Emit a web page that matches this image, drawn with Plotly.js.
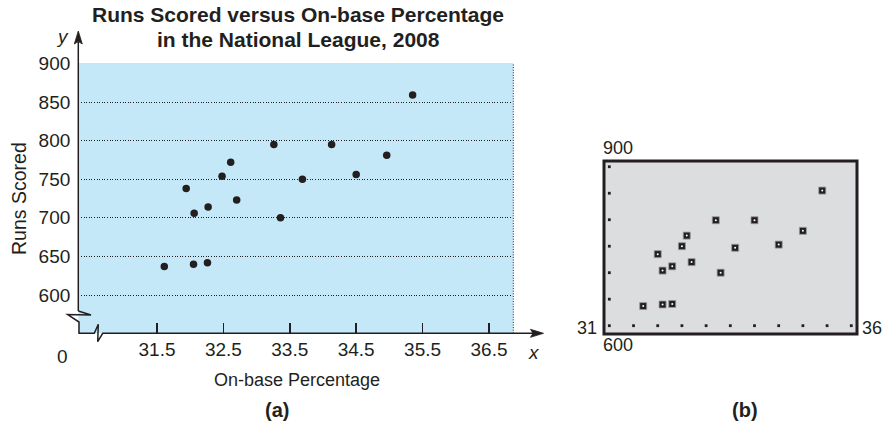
<!DOCTYPE html>
<html>
<head>
<meta charset="utf-8">
<script src="https://cdn.plot.ly/plotly-3.0.1.min.js"></script>
<style>html,body{margin:0;padding:0;background:#fff;}#chart{width:894px;height:442px;}</style>
</head>
<body>
<div id="chart"></div>
<script>
// ---- data: panel (a) as drawn ----
const obpA  = [31.61, 32.05, 32.26, 31.94, 32.06, 32.27, 32.48, 32.61, 32.70, 33.26, 33.36, 33.69, 34.13, 34.50, 34.96, 35.35];
const runsA = [637, 640, 642, 738, 706, 714, 754, 772, 723, 795, 700, 750, 795, 756, 781, 859];
// ---- data: panel (b) calculator screen ----
const obpB  = [31.7, 32.1, 32.3, 32.0, 32.1, 32.3, 32.5, 32.6, 32.7, 33.2, 33.3, 33.6, 34.0, 34.5, 35.0, 35.4];
const runsB = [637, 640, 641, 735, 704, 712, 750, 770, 720, 799, 700, 747, 799, 753, 779, 855];
// ---- ticks ----
const xTicksA = [31.5, 32.5, 33.5, 34.5, 35.5, 36.5];
const xTickTextA = ['31.5', '32.5', '33.5', '34.5', '35.5', '36.5'];
const yTicksA = [600, 650, 700, 750, 800, 850, 900];
const yTickTextA = ['600', '650', '700', '750', '800', '850', '900'];
const calcXTicks = [31, 31.5, 32, 32.5, 33, 33.5, 34, 34.5, 35, 35.5, 36];
const calcXTickY = [600, 600, 600, 600, 600, 600, 600, 600, 600, 600, 600];
const calcYTicks = [650, 700, 750, 800, 850, 900];
const calcYTickX = [31, 31, 31, 31, 31, 31];

const W = 894, H = 442;
const px = x => x / W;
const py = y => 1 - y / H;
const INK = '#231f20';
const FONT = 'Liberation Sans, Arial, Helvetica, sans-serif';

function path(pts, close) {
  let s = pts.map((p, i) => (i ? 'L' : 'M') + px(p[0]).toFixed(5) + ',' + py(p[1]).toFixed(5)).join(' ');
  return close ? s + ' Z' : s;
}

const traces = [
  {x: obpA, y: runsA, xaxis: 'x', yaxis: 'y', type: 'scatter', mode: 'markers',
   marker: {size: 7.5, color: INK}, hoverinfo: 'skip'},
  {x: calcXTicks, y: calcXTickY, xaxis: 'x2', yaxis: 'y2', type: 'scatter', mode: 'markers',
   marker: {size: 2.8, symbol: 'square', color: INK}, hoverinfo: 'skip'},
  {x: calcYTickX, y: calcYTicks, xaxis: 'x2', yaxis: 'y2', type: 'scatter', mode: 'markers',
   marker: {size: 2.8, symbol: 'square', color: INK}, hoverinfo: 'skip'},
  {x: obpB, y: runsB, xaxis: 'x2', yaxis: 'y2', type: 'scatter', mode: 'markers',
   marker: {size: 7, symbol: 'square', color: INK, line: {width: 0.8, color: '#9a9a9a'}}, hoverinfo: 'skip'},
  {x: obpB, y: runsB, xaxis: 'x2', yaxis: 'y2', type: 'scatter', mode: 'markers',
   marker: {size: 2, symbol: 'circle', color: '#ffffff'}, hoverinfo: 'skip'}
];

function ann(text, x, y, opts) {
  return Object.assign({text: text, x: px(x), y: py(y), xref: 'paper', yref: 'paper',
    xanchor: 'center', yanchor: 'middle', showarrow: false,
    font: {family: FONT, size: 18, color: INK}}, opts || {});
}

const layout = {
  width: W, height: H,
  margin: {l: 0, r: 0, t: 0, b: 0},
  paper_bgcolor: '#ffffff',
  plot_bgcolor: 'rgba(0,0,0,0)',
  showlegend: false,
  xaxis: {
    domain: [px(78.3), px(513.3)], range: [30.315, 36.866],
    tickvals: xTicksA, ticktext: xTickTextA,
    ticks: 'inside', ticklen: 10, tickwidth: 1.5, tickcolor: INK,
    showgrid: false, zeroline: false, showline: false,
    tickfont: {family: FONT, size: 19, color: INK}, ticklabelstandoff: 3,
    fixedrange: true
  },
  yaxis: {
    domain: [py(333.3), py(63)], range: [550.5, 900.5],
    tickvals: yTicksA, ticktext: yTickTextA,
    ticks: '', showgrid: true, gridcolor: INK, gridwidth: 1, griddash: '1px,1.6px',
    zeroline: false, showline: false,
    tickfont: {family: FONT, size: 19, color: INK}, ticklabelstandoff: 7,
    fixedrange: true
  },
  xaxis2: {domain: [px(604), px(857)], range: [30.890, 36.118], visible: false, fixedrange: true, anchor: 'y2'},
  yaxis2: {domain: [py(334), py(161)], range: [584.3, 910.8], visible: false, fixedrange: true, anchor: 'x2'},
  shapes: [
    {type: 'rect', xref: 'x domain', yref: 'y domain', x0: 0, x1: 1, y0: 0, y1: 1,
     fillcolor: '#c5e8f8', line: {width: 0}, layer: 'below'},
    {type: 'line', xref: 'x domain', yref: 'y domain', x0: 1, x1: 1, y0: 0, y1: 1,
     line: {color: INK, width: 1, dash: '1px,1.6px'}},
    {type: 'path', xref: 'paper', yref: 'paper', path: path([[78.3, 42], [78.3, 311]]),
     line: {color: INK, width: 1.5}},
    {type: 'path', xref: 'paper', yref: 'paper',
     path: path([[78.3, 311], [91, 315], [67.7, 314.5], [79, 322], [79, 333.3], [94.3, 333.3],
                 [98.3, 324.3], [97.7, 341.7], [102.7, 333.3], [534, 333.3]]),
     line: {color: INK, width: 1.5}},
    {type: 'path', xref: 'paper', yref: 'paper',
     path: path([[78.3, 31], [82.3, 44], [78.3, 41.5], [74.3, 44]], true),
     fillcolor: INK, line: {color: INK, width: 0.8}},
    {type: 'path', xref: 'paper', yref: 'paper',
     path: path([[543.5, 333.3], [530.5, 329.3], [533, 333.3], [530.5, 337.3]], true),
     fillcolor: INK, line: {color: INK, width: 0.8}},
    {type: 'rect', xref: 'x2 domain', yref: 'y2 domain', x0: 0, x1: 1, y0: 0, y1: 1,
     fillcolor: '#dcdddf', line: {color: INK, width: 3}, layer: 'below'}
  ],
  annotations: [
    ann('Runs Scored versus On-base Percentage', 298, 15, {font: {family: FONT, size: 21, color: INK, weight: 700}}),
    ann('in the National League, 2008', 298, 39, {font: {family: FONT, size: 21, color: INK, weight: 700}}),
    ann('y', 62, 36, {font: {family: FONT, size: 19, color: INK, style: 'italic'}}),
    ann('x', 534, 352, {font: {family: FONT, size: 19, color: INK, style: 'italic'}}),
    ann('0', 63, 356, {font: {family: FONT, size: 19, color: INK}}),
    ann('Runs Scored', 19, 199, {textangle: -90, font: {family: FONT, size: 19.5, color: INK}}),
    ann('On-base Percentage', 297, 380),
    ann('(a)', 277, 410, {font: {family: FONT, size: 20, color: INK, weight: 700}}),
    ann('(b)', 745, 410, {font: {family: FONT, size: 20, color: INK, weight: 700}}),
    ann('900', 618, 148),
    ann('600', 618, 345),
    ann('31', 587, 328),
    ann('36', 872, 328)
  ]
};

Plotly.newPlot('chart', traces, layout, {displayModeBar: false, staticPlot: true});
</script>
</body>
</html>
